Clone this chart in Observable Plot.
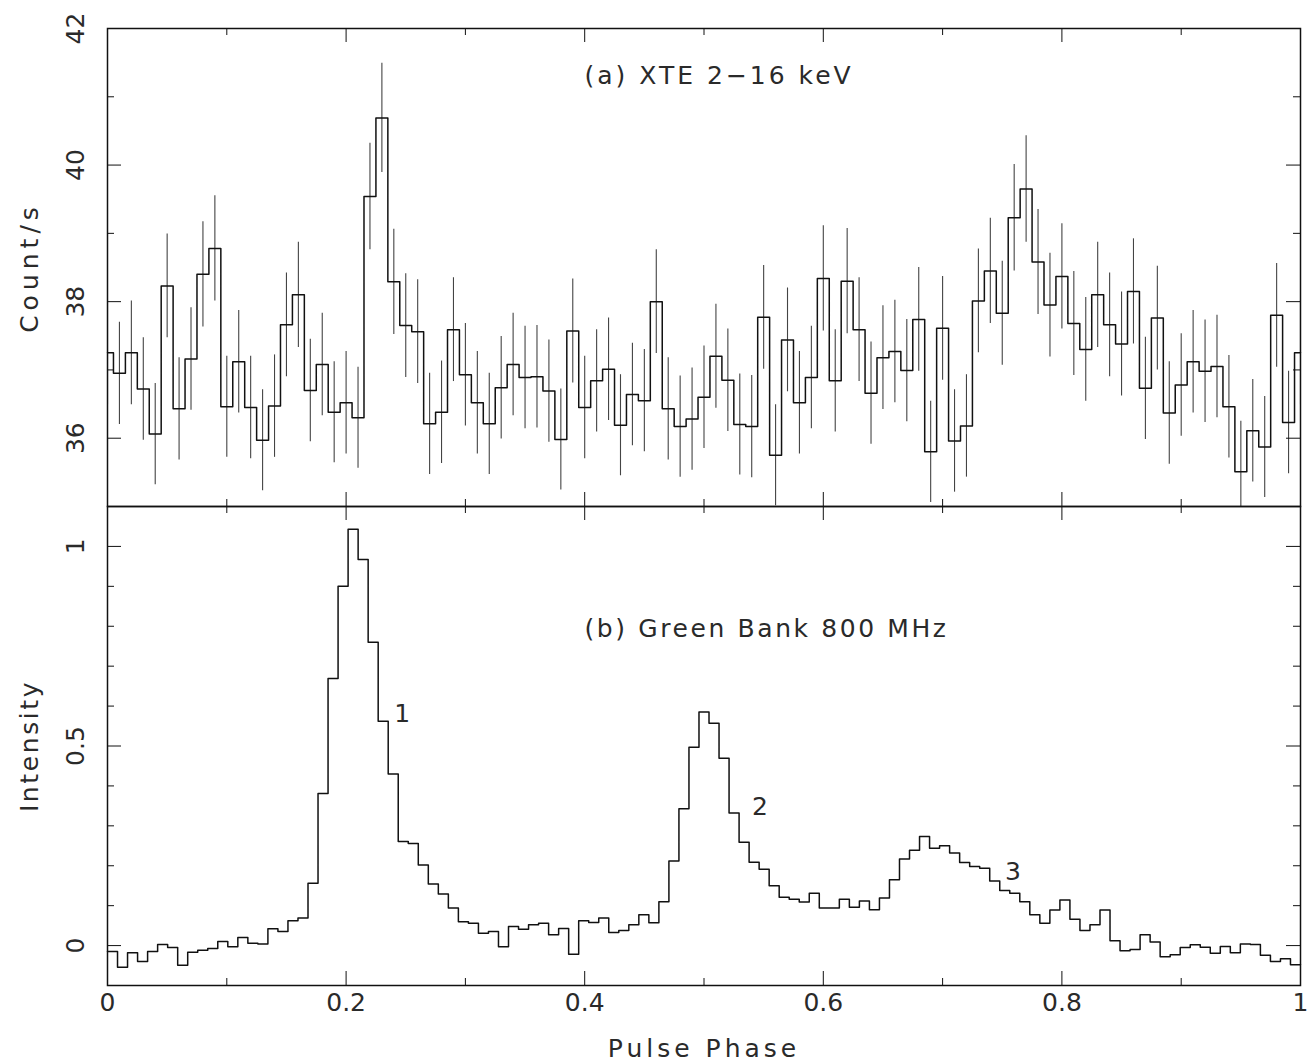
<!DOCTYPE html>
<html>
<head>
<meta charset="utf-8">
<script src="https://cdn.jsdelivr.net/npm/d3@7"></script>
<script src="https://cdn.jsdelivr.net/npm/@observablehq/plot@0.6"></script>
<style>
  html, body { margin: 0; padding: 0; background: #fff; }
  #wrap { position: relative; width: 1307px; height: 1061px; }
  #wrap svg { position: absolute; left: 0; }
  text { font-family: "DejaVu Sans", sans-serif; }
</style>
</head>
<body>
<div id="wrap"></div>
<script>
// ---------- (a) XTE 2-16 keV : count rate per phase bin (phase = i/100) ----------
const xtePhase = d3.range(0, 101).map(i => i / 100);
const xteRate = [
  37.25, 36.95, 37.25, 36.72, 36.06, 38.23, 36.43, 37.16, 38.40, 38.78,
  36.46, 37.12, 36.45, 35.97, 36.47, 37.66, 38.10, 36.70, 37.08, 36.38,
  36.52, 36.30, 39.54, 40.69, 38.29, 37.65, 37.56, 36.21, 36.38, 37.59,
  36.93, 36.52, 36.21, 36.74, 37.08, 36.89, 36.90, 36.69, 35.98, 37.57,
  36.45, 36.84, 37.01, 36.19, 36.64, 36.55, 38.00, 36.43, 36.17, 36.28,
  36.60, 37.20, 36.85, 36.20, 36.17, 37.77, 35.75, 37.44, 36.52, 36.89,
  38.34, 36.84, 38.30, 37.59, 36.66, 37.18, 37.27, 36.99, 37.74, 35.80,
  37.61, 35.96, 36.18, 38.01, 38.45, 37.83, 39.23, 39.65, 38.58, 37.95,
  38.37, 37.68, 37.30, 38.10, 37.66, 37.38, 38.15, 36.73, 37.76, 36.37,
  36.78, 37.12, 36.98, 37.05, 36.46, 35.51, 36.11, 35.87, 37.80, 36.23,
  37.25
];
const xteErr = [
  0.76, 0.75, 0.76, 0.75, 0.74, 0.76, 0.75, 0.75, 0.77, 0.77,
  0.74, 0.75, 0.75, 0.74, 0.75, 0.76, 0.77, 0.75, 0.75, 0.74,
  0.75, 0.74, 0.78, 0.80, 0.77, 0.76, 0.76, 0.74, 0.75, 0.76,
  0.75, 0.75, 0.74, 0.75, 0.75, 0.75, 0.75, 0.75, 0.74, 0.76,
  0.75, 0.75, 0.75, 0.74, 0.75, 0.75, 0.76, 0.75, 0.74, 0.75,
  0.75, 0.76, 0.75, 0.74, 0.75, 0.76, 0.74, 0.76, 0.75, 0.75,
  0.77, 0.75, 0.77, 0.76, 0.75, 0.76, 0.75, 0.75, 0.76, 0.74,
  0.76, 0.75, 0.75, 0.76, 0.77, 0.76, 0.78, 0.78, 0.77, 0.76,
  0.77, 0.76, 0.76, 0.77, 0.76, 0.76, 0.77, 0.75, 0.76, 0.75,
  0.75, 0.75, 0.75, 0.75, 0.75, 0.74, 0.75, 0.74, 0.76, 0.75,
  0.76
];

// ---------- (b) Green Bank 800 MHz : radio profile, 119 bins over one period ----------
const radioIntensity = [
  -0.015, -0.054, -0.018, -0.040, -0.015, 0.003, -0.005, -0.049, -0.017, -0.012,
  -0.007, 0.010, -0.003, 0.020, 0.006, 0.004, 0.042, 0.035, 0.062, 0.069,
  0.156, 0.381, 0.669, 0.900, 1.043, 0.967, 0.760, 0.562, 0.430, 0.261,
  0.256, 0.202, 0.154, 0.129, 0.094, 0.060, 0.056, 0.031, 0.035, -0.003,
  0.048, 0.041, 0.052, 0.056, 0.027, 0.043, -0.022, 0.062, 0.058, 0.069,
  0.033, 0.038, 0.052, 0.077, 0.057, 0.110, 0.212, 0.343, 0.497, 0.585,
  0.557, 0.469, 0.332, 0.259, 0.209, 0.191, 0.150, 0.121, 0.116, 0.109,
  0.131, 0.094, 0.094, 0.116, 0.096, 0.112, 0.090, 0.119, 0.165, 0.217,
  0.239, 0.273, 0.244, 0.250, 0.232, 0.208, 0.198, 0.194, 0.162, 0.138,
  0.131, 0.110, 0.077, 0.056, 0.089, 0.114, 0.066, 0.038, 0.052, 0.089,
  0.012, -0.013, -0.010, 0.027, 0.009, -0.028, -0.023, -0.005, 0.002, -0.004,
  -0.019, -0.002, -0.018, 0.004, 0.003, -0.024, -0.040, -0.033, -0.048
];
const nRadio = radioIntensity.length;

// component labels
const compLabel = ["1", "2", "3"];
const compPhase = [0.247, 0.547, 0.759];
const compInt = [0.58, 0.348, 0.185];

// ticks
const xMajor = [0, 0.2, 0.4, 0.6, 0.8, 1];
const xMinor = [0.1, 0.3, 0.5, 0.7, 0.9];
const xTickLabels = ["0", "0.2", "0.4", "0.6", "0.8", "1"];
const yMajorA = [36, 38, 40, 42];
const yMinorA = [35, 37, 39, 41];
const yLabelsA = ["36", "38", "40", "42"];
const yMajorB = [0, 0.5, 1];
const yMinorB = [-0.1, 0.1, 0.2, 0.3, 0.4, 0.6, 0.7, 0.8, 0.9, 1.1];
const yLabelsB = ["0", "0.5", "1"];

const titleA = "(a) XTE 2\u221216 keV";
const titleB = "(b) Green Bank 800 MHz";
const yTitleA = "Count/s";
const yTitleB = "Intensity";
const xTitle = "Pulse Phase";

// ---------- tables ----------
const xteData = xtePhase.map((p, i) => ({phase: p, rate: xteRate[i], err: xteErr[i]}));
const radioData = radioIntensity.map((v, i) => ({phase: i / nRadio, v}));
radioData.push({phase: 1, v: radioIntensity[nRadio - 1]});

// ---------- layout ----------
const W = 1307, ML = 107, MR = 7;
const PW = W - ML - MR;        // 1193
const HA = 506, MTA = 28;      // panel a: 28..506
const PHA = HA - MTA;
const HB = 555, MBB = 76;      // panel b: 506..985
const PHB = HB - MBB;

const FONT = 25;
const textStyle = {fill: "#2a2a2a", fontSize: FONT};

function frameTicks(xMaj, xMin, yMaj, yMin, ph) {
  const L = 14, S = 7;
  return [
    Plot.tickY(yMaj, {y: d => d, insetRight: PW - L, stroke: "#111"}),
    Plot.tickY(yMaj, {y: d => d, insetLeft: PW - L, stroke: "#111"}),
    Plot.tickY(yMin, {y: d => d, insetRight: PW - S, stroke: "#111"}),
    Plot.tickY(yMin, {y: d => d, insetLeft: PW - S, stroke: "#111"}),
    Plot.tickX(xMaj, {x: d => d, insetBottom: ph - L, stroke: "#111"}),
    Plot.tickX(xMaj, {x: d => d, insetTop: ph - L, stroke: "#111"}),
    Plot.tickX(xMin, {x: d => d, insetBottom: ph - S, stroke: "#111"}),
    Plot.tickX(xMin, {x: d => d, insetTop: ph - S, stroke: "#111"})
  ];
}

const chartA = Plot.plot({
  width: W, height: HA,
  marginLeft: ML, marginRight: MR, marginTop: MTA, marginBottom: 0,
  x: {domain: [0, 1], axis: null},
  y: {domain: [35, 42], axis: null},
  style: {overflow: "visible", background: "transparent"},
  marks: [
    Plot.ruleX(xteData, {x: "phase", y1: d => d.rate - d.err, y2: d => d.rate + d.err,
      stroke: "#444", strokeWidth: 1.1, clip: true}),
    Plot.line(xteData, {x: "phase", y: "rate", curve: "step", stroke: "#111", strokeWidth: 1.5}),
    ...frameTicks(xMajor, xMinor, yMajorA, yMinorA, PHA),
    Plot.frame({stroke: "#111", strokeWidth: 1.5}),
    Plot.text(yMajorA, {y: d => d, text: (d, i) => yLabelsA[i], frameAnchor: "left", dx: -32,
      rotate: -90, textAnchor: "middle", lineAnchor: "middle", ...textStyle}),
    Plot.text([yTitleA], {frameAnchor: "left", dx: -78, rotate: -90, textAnchor: "middle",
      lineAnchor: "middle", ...textStyle}),
    Plot.text([titleA], {frameAnchor: "top-left", dx: 477, dy: 47, textAnchor: "start",
      lineAnchor: "middle", ...textStyle})
  ]
});

const chartB = Plot.plot({
  width: W, height: HB,
  marginLeft: ML, marginRight: MR, marginTop: 0, marginBottom: MBB,
  x: {domain: [0, 1], axis: null},
  y: {domain: [-0.1, 1.1], axis: null},
  style: {overflow: "visible", background: "transparent"},
  marks: [
    Plot.line(radioData, {x: "phase", y: "v", curve: "step-after", stroke: "#111", strokeWidth: 1.5}),
    ...frameTicks(xMajor, xMinor, yMajorB, yMinorB, PHB),
    Plot.frame({stroke: "#111", strokeWidth: 1.5}),
    Plot.text(yMajorB, {y: d => d, text: (d, i) => yLabelsB[i], frameAnchor: "left", dx: -32,
      rotate: -90, textAnchor: "middle", lineAnchor: "middle", ...textStyle}),
    Plot.text([yTitleB], {frameAnchor: "left", dx: -78, rotate: -90, textAnchor: "middle",
      lineAnchor: "middle", ...textStyle}),
    Plot.text(xMajor, {x: d => d, text: (d, i) => xTickLabels[i], frameAnchor: "bottom", dy: 17,
      textAnchor: "middle", lineAnchor: "middle", ...textStyle}),
    Plot.text([xTitle], {frameAnchor: "bottom", dy: 63, textAnchor: "middle",
      lineAnchor: "middle", ...textStyle}),
    Plot.text([titleB], {frameAnchor: "top-left", dx: 477, dy: 122, textAnchor: "start",
      lineAnchor: "middle", ...textStyle}),
    Plot.text(compLabel, {x: (d, i) => compPhase[i], y: (d, i) => compInt[i], text: d => d,
      textAnchor: "middle", lineAnchor: "middle", ...textStyle})
  ]
});

// wider letter spacing, like the original plotting font
const spacing = new Map([
  [titleA, 3], [titleB, 2.6], [xTitle, 4], [yTitleA, 5], [yTitleB, 2.6]
]);
for (const chart of [chartA, chartB]) {
  d3.select(chart).selectAll("text").each(function () {
    const s = spacing.get(this.textContent);
    if (s) d3.select(this).style("letter-spacing", s + "px");
  });
}

const wrap = document.getElementById("wrap");
chartA.style.top = "0px";
chartB.style.top = HA + "px";
wrap.appendChild(chartA);
wrap.appendChild(chartB);
</script>
</body>
</html>
